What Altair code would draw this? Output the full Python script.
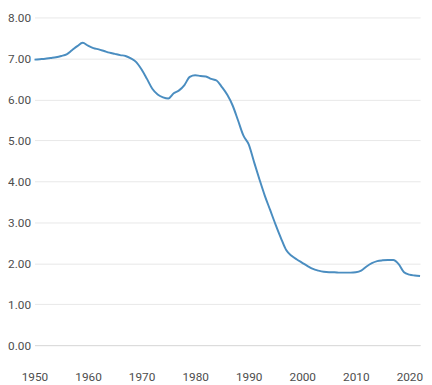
import altair as alt
import pandas as pd

years = list(range(1950, 2023))
values = [
    6.97, 6.98, 6.99, 7.01, 7.03, 7.06, 7.10, 7.20, 7.30, 7.38,
    7.31, 7.25, 7.22, 7.18, 7.14, 7.11, 7.08, 7.06, 7.00, 6.91,
    6.73, 6.50, 6.26, 6.12, 6.05, 6.02, 6.15, 6.22, 6.35, 6.55,
    6.59, 6.57, 6.56, 6.50, 6.46, 6.30, 6.11, 5.85, 5.49, 5.12,
    4.90, 4.47, 4.05, 3.65, 3.30, 2.95, 2.62, 2.32, 2.18, 2.09,
    2.01, 1.93, 1.86, 1.82, 1.79, 1.78, 1.78, 1.77, 1.77, 1.77,
    1.78, 1.82, 1.92, 2.00, 2.05, 2.07, 2.08, 2.08, 1.98, 1.78,
    1.72, 1.70, 1.69,
]
x_ticks = [1950, 1960, 1970, 1980, 1990, 2000, 2010, 2020]
y_ticks = [0, 1, 2, 3, 4, 5, 6, 7, 8]

df = pd.DataFrame({"year": years, "value": values})

chart = (
    alt.Chart(df)
    .mark_line(color="#4a8dc0", strokeWidth=2, interpolate="monotone")
    .encode(
        x=alt.X(
            "year:Q",
            scale=alt.Scale(domain=[1950, 2022], nice=False, zero=False),
            axis=alt.Axis(
                values=x_ticks,
                format="d",
                title=None,
                grid=False,
                ticks=False,
                tickSize=0,
                labelPadding=27,
                labelFlush=False,
                labelOverlap=False,
                domainColor="#d9d9d9",
                labelFont="Roboto",
                labelFontSize=12,
                labelColor="#4d4d4d",
            ),
        ),
        y=alt.Y(
            "value:Q",
            scale=alt.Scale(domain=[0, 8], nice=False),
            axis=alt.Axis(
                values=y_ticks,
                format=".2f",
                title=None,
                domain=False,
                ticks=False,
                tickSize=0,
                labelPadding=4,
                labelFlush=False,
                gridColor="#e8e8e8",
                labelFont="Roboto",
                labelFontSize=12,
                labelColor="#4d4d4d",
            ),
        ),
    )
    .properties(
        width=393,
        height=334,
        autosize=alt.AutoSizeParams(type="none"),
        padding={"left": 27, "top": 6, "right": 4, "bottom": 36},
    )
    .configure_view(stroke=None)
)

chart.save("out.html", embed_options={"renderer": "svg", "actions": False})
